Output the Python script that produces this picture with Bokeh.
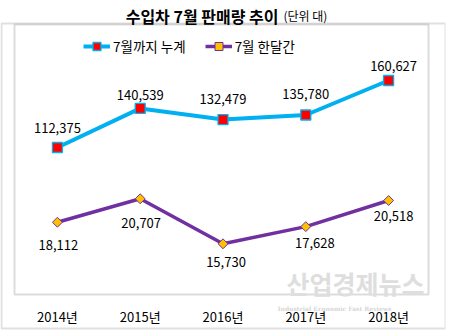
from bokeh.plotting import figure
from bokeh.models import (ColumnDataSource, Range1d, FactorRange, Label, BoxAnnotation,
                          Legend, LegendItem)
from bokeh.core.properties import value
from bokeh.embed import file_html
from bokeh.resources import INLINE

# ---- data ----
years = ["2014년", "2015년", "2016년", "2017년", "2018년"]
cumulative = [112375, 140539, 132479, 135780, 160627]
monthly = [18112, 20707, 15730, 17628, 20518]
series_names = ["7월까지 누계", "7월 한달간"]
title_main = "수입차 7월 판매량 추이"
title_unit = "(단위 대)"
watermark = "산업경제뉴스"
watermark_sub = "Industrial Economic Fast Reviews"

# ---- label placement (style, px) ----
cum_dx = [0, 0, 0, 0, 5]
cum_dy = [-20, -13, -21, -21, -15]
mon_dx = [1, 1, 3, 9, 5]
mon_dy = [23, 24, 18, 16, 15]

KR = "Noto Sans CJK KR"
GRAY = "#8a8a8a"
W, H = 449, 330

src = ColumnDataSource(dict(
    x=years, c=cumulative, m=monthly,
    cl=[f"{v:,}" for v in cumulative],
    ml=[f"{v:,}" for v in monthly],
    cdx=cum_dx, cdy=cum_dy, mdx=mon_dx, mdy=mon_dy,
))

p = figure(width=W, height=H,
           x_range=FactorRange(*years, range_padding=0.0749),
           y_range=Range1d(-19422, 218245),
           output_backend="svg", toolbar_location=None,
           min_border_left=0, min_border_right=4, min_border_top=0, min_border_bottom=0)
p.extra_y_ranges = {"m": Range1d(6141, 42638), "px": Range1d(H, 0)}
p.xaxis.visible = False
p.yaxis.visible = False
p.xgrid.visible = False
p.ygrid.visible = False
p.outline_line_color = None
p.background_fill_color = "white"
p.border_fill_color = "white"

# ---- frames ----
p.add_layout(BoxAnnotation(left=1, right=445, top=H - 23, bottom=H - 328,
                           left_units="screen", right_units="screen",
                           top_units="screen", bottom_units="screen",
                           fill_alpha=0, line_color="#999999", line_width=2, level="underlay"))
p.add_layout(BoxAnnotation(left=14, right=428, top=H - 24, bottom=H - 294,
                           left_units="screen", right_units="screen",
                           top_units="screen", bottom_units="screen",
                           fill_alpha=0, line_color=GRAY, line_width=2, level="underlay"))

# ---- watermark ----
p.add_layout(Label(x=355, y=H - 282, x_units="screen", y_units="screen", text=watermark,
                   text_align="center", text_baseline="middle", text_font=KR,
                   text_font_style="bold", text_font_size="25px", text_color="#dedede",
                   level="underlay"))
p.add_layout(Label(x=334, y=H - 308, x_units="screen", y_units="screen", text=watermark_sub,
                   text_align="center", text_baseline="middle", text_font="DejaVu Serif",
                   text_font_style="bold", text_font_size="6px", text_color="#d6d6d6",
                   level="underlay"))

# ---- cumulative series ----
l1 = p.line("x", "c", source=src, line_color="#00b0f0", line_width=4)
s1 = p.scatter("x", "c", source=src, marker="square", size=10,
               fill_color="#ff0000", line_color="#00b0f0", line_width=1.3)
p.text("x", "c", text="cl", source=src, x_offset="cdx", y_offset="cdy",
       text_align="center", text_baseline="middle", text_font=value(KR),
       text_font_size="13px", text_color="#000000")

# ---- monthly series ----
l2 = p.line("x", "m", source=src, line_color="#7030a0", line_width=3.5, y_range_name="m")
s2 = p.scatter("x", "m", source=src, marker="square", angle=0.785398, size=7,
               fill_color="#ffc000", line_color="#7030a0", line_width=1, y_range_name="m")
p.text("x", "m", text="ml", source=src, x_offset="mdx", y_offset="mdy",
       text_align="center", text_baseline="middle", text_font=value(KR),
       text_font_size="13px", text_color="#000000", y_range_name="m")

# ---- category labels (x axis) ----
p.text(x="x", y=316, text="x", source=src, y_range_name="px",
       text_align="center", text_baseline="middle", text_font=value(KR),
       text_font_size="13px", text_color="#000000")

# ---- legend ----
legend = Legend(items=[LegendItem(label=series_names[0], renderers=[l1, s1]),
                       LegendItem(label=series_names[1], renderers=[l2, s2])],
                orientation="horizontal", location=(83, H - 56),
                padding=0, margin=0, spacing=19, glyph_width=27, glyph_height=20,
                label_standoff=3, label_height=20,
                label_text_font=KR, label_text_font_size="13.5px",
                label_text_color="#000000",
                border_line_color=None, background_fill_alpha=0)
p.add_layout(legend, "center")

# ---- title ----
p.add_layout(Label(x=278, y=H - 15, x_units="screen", y_units="screen", text=title_main,
                   text_align="right", text_baseline="alphabetic", text_font=KR,
                   text_font_style="bold", text_font_size="16px", text_color="#000000"))
p.add_layout(Label(x=283, y=H - 15, x_units="screen", y_units="screen", text=title_unit,
                   text_align="left", text_baseline="alphabetic", text_font=KR,
                   text_font_size="12px", text_color="#000000"))

open("out.html", "w").write(file_html(p, INLINE))
